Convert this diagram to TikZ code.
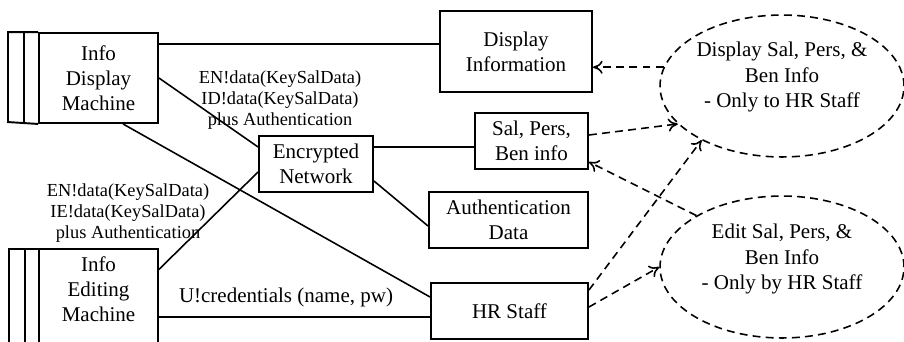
\documentclass[tikz,border=0pt]{standalone}
\usepackage{fontspec}
\setmainfont{Liberation Serif}
\usetikzlibrary{shapes.geometric,arrows.meta}

\begin{document}
\begin{tikzpicture}[x=0.5714pt, y=-0.5714pt,
    box/.style={draw, line width=1.1pt, align=center, inner sep=0pt, font=\fontsize{12}{14.4}\selectfont},
    goal/.style={draw, ellipse, dash pattern=on 4.5pt off 3pt, line width=0.9pt, inner sep=0pt,
        minimum width=139.4pt, minimum height=81.1pt},
    idea/.style={align=center, inner sep=0pt, font=\fontsize{12}{14.4}\selectfont},
    edge/.style={line width=1.1pt},
    link/.style={line width=0.9pt},
    flow/.style={-{To[length=5.5pt,width=7.5pt]}, dash pattern=on 4.5pt off 3pt, line width=0.9pt},
    msg/.style={align=center, inner sep=0pt, font=\fontsize{10.5}{12}\selectfont}]
                    \useasboundingbox (0,0) rectangle (904,341);
                    \begin{scope}
                        \node (idm) [box, minimum width=68pt, minimum height=51.4pt] at (98.5,78) {Info\\Display\\Machine};
                        \draw[edge] (idm.north west) -- ++(-30,0) -- ++(0,90) -- (idm.south west);
                        \draw[edge] (idm.north west) ++(-14,0) -- ++(0,90);
                    \end{scope}
                    \begin{scope}
                        \node (iem) [idea, minimum width=68pt, minimum height=45.7pt] at (98.5,289) {Info\\Editing\\Machine};
                        \draw[edge] (iem.north west) -- (iem.north east) -- ++(0,100);
                        \draw[edge] (iem.north west) -- ++(0,100);
                        \draw[edge] (iem.north west) -- ++(-30,0) -- ++(0,100);
                        \draw[edge] (iem.north west) ++(-14,0) -- ++(0,100);
                    \end{scope}
                    \node (dsp) [box, minimum width=86.9pt, minimum height=46.3pt] at (516,51.5) {Display\\Information};
                    \node (sal) [box, minimum width=64.6pt, minimum height=32pt] at (531.5,141) {Sal, Pers,\\Ben info};
                    \node (enc) [box, minimum width=65.1pt, minimum height=32pt] at (316,164) {Encrypted\\Network};
                    \node (aut) [box, minimum width=90.9pt, minimum height=32pt] at (508.5,220) {Authentication\\Data};
                    \node (hr) [box, minimum width=89.7pt, minimum height=32pt] at (509.5,311) {HR Staff};
                    \node (e1) [goal] at (782,86) {};
                    \node (t1) [idea] at (782,77) {Display Sal, Pers, \&\\Ben Info\\- Only to HR Staff};
                    \node (e2) [goal] at (782,267) {};
                    \node (t2) [idea] at (782,259) {Edit Sal, Pers, \&\\Ben Info\\- Only by HR Staff};
                    \node (m1) [msg] at (280,100) {EN!data(KeySalData)\\ID!data(KeySalData)\\plus Authentication};
                    \node (m2) [msg] at (128,213) {EN!data(KeySalData)\\IE!data(KeySalData)\\plus Authentication};
                    \node (m3) [idea] at (286,297) {U!credentials (name, pw)};
                    \draw[link] (idm.east |- 0,44) -- (dsp.west |- 0,44);
                    \draw[link] (idm.east) -- (enc.west |- 0,147);
                    \draw[link] (idm.south -| 123,0) -- (hr.west |- 0,297);
                    \draw[link] (iem.east |- 0,270) -- (enc.west |- 0,172);
                    \draw[link] (iem.east |- 0,317) -- (hr.west |- 0,317);
                    \draw[link] (enc.east |- 0,147) -- (sal.west |- 0,147);
                    \draw[link] (enc.east |- 0,181) -- (aut.west |- 0,226);
                    \draw[flow] (e1.171) -- (dsp.east |- e1.171);
                    \draw[flow] (sal.east |- 0,135) -- (e1.200);
                    \draw[flow] (hr.east |- 0,290) -- (e1.214);
                    \draw[flow] (e2.149) -- (sal.east |- 0,162);
                    \draw[flow] (hr.east |- 0,307) -- (e2.west);
                \end{tikzpicture}
\end{document}
